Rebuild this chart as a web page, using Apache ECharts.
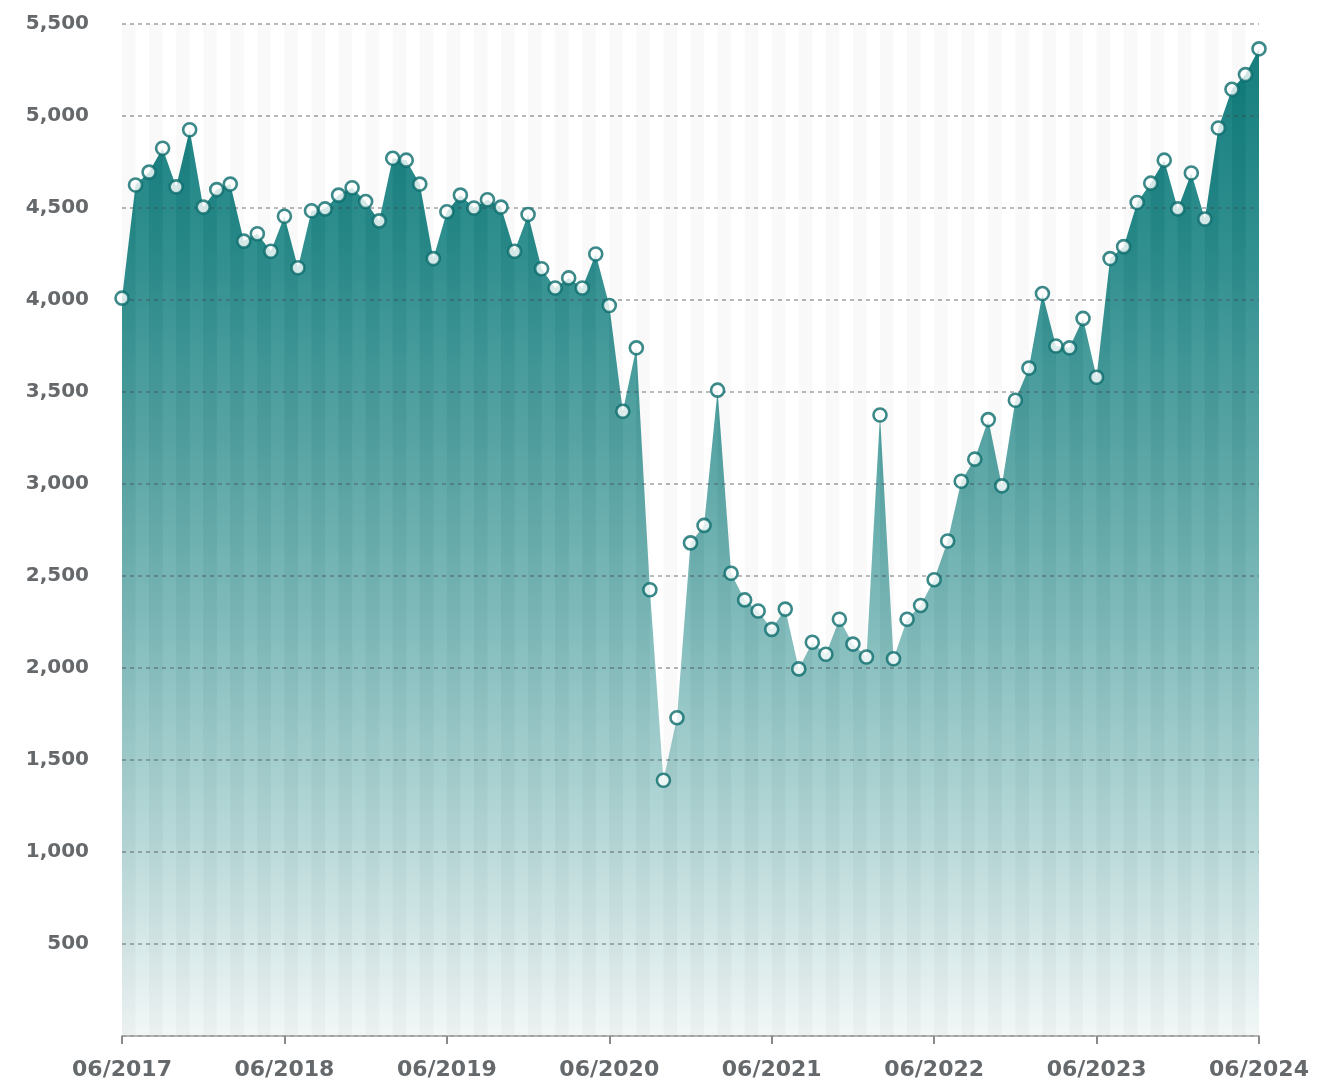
<!DOCTYPE html>
<html>
<head>
<meta charset="utf-8">
<title>Monthly values 06/2017 – 06/2024</title>
<script src="https://cdn.jsdelivr.net/npm/echarts@6/dist/echarts.min.js"></script>
<style>
  html, body { margin: 0; padding: 0; background: #ffffff; }
  #chart { width: 1339px; height: 1082px; }
</style>
</head>
<body>
<div id="chart"></div>
<script>
// Monthly series, June 2017 through June 2024
const startYear = 2017;
const startMonth = 6;
const monthCount = 85;

const values = [
  4010, 4625, 4695, 4825, 4615, 4925, 4505, 4600, 4630, 4320,
  4360, 4265, 4455, 4175, 4485, 4495, 4570, 4610, 4535, 4430,
  4770, 4760, 4630, 4225, 4480, 4570, 4500, 4545, 4505, 4265,
  4465, 4170, 4065, 4120, 4065, 4250, 3970, 3395, 3740, 2425,
  1390, 1730, 2680, 2775, 3510, 2515, 2370, 2310, 2210, 2320,
  1995, 2140, 2075, 2265, 2130, 2060, 3375, 2050, 2265, 2340,
  2480, 2690, 3015, 3135, 3350, 2990, 3455, 3630, 4035, 3750,
  3740, 3900, 3580, 4225, 4290, 4530, 4635, 4760, 4495, 4690,
  4440, 4935, 5145, 5225, 5365
];

const yMin = 0;
const yMax = 5500;
const yStep = 500;

// Month labels "MM/YYYY"
const months = [];
for (let i = 0; i < monthCount; i++) {
  const m = (startMonth - 1 + i) % 12 + 1;
  const y = startYear + Math.floor((startMonth - 1 + i) / 12);
  months.push((m < 10 ? '0' : '') + m + '/' + y);
}

const labelFont = 'DejaVu Sans';
const labelColor = '#65696c';

const chart = echarts.init(document.getElementById('chart'), null, { renderer: 'canvas' });

chart.setOption({
  animation: false,
  backgroundColor: '#ffffff',
  grid: { left: 122, right: 80, top: 24, bottom: 46, containLabel: false },
  xAxis: {
    type: 'category',
    data: months,
    boundaryGap: false,
    z: 3,
    axisLine: { show: true, lineStyle: { color: '#9c9c9c', width: 1.5 } },
    axisTick: {
      show: true, interval: 11, length: 8,
      lineStyle: { color: '#8a8a8a', width: 2 }
    },
    axisLabel: {
      interval: 11, margin: 23,
      fontFamily: labelFont, fontWeight: 'bold', fontSize: 22, color: labelColor
    },
    splitLine: { show: false },
    splitArea: {
      show: true, interval: 0,
      areaStyle: { color: ['rgba(90,100,100,0.04)', 'rgba(255,255,255,0.05)'] }
    }
  },
  yAxis: {
    type: 'value',
    min: yMin,
    max: yMax,
    interval: yStep,
    z: 3,
    axisLine: { show: false },
    axisTick: { show: false },
    axisLabel: {
      margin: 33,
      fontFamily: labelFont, fontWeight: 'bold', fontSize: 20, color: labelColor,
      formatter: v => v === 0 ? '' : v.toLocaleString('en-US')
    },
    splitLine: {
      show: true,
      lineStyle: { color: 'rgba(60,66,70,0.5)', width: 1.5, type: [4, 4] }
    }
  },
  series: [
    {
      type: 'line',
      data: values,
      z: 2,
      showSymbol: false,
      lineStyle: { width: 0, opacity: 0 },
      areaStyle: {
        opacity: 1,
        color: new echarts.graphic.LinearGradient(0, 0, 0, 1, [
          { offset: 0.00, color: '#0b7878' },
          { offset: 0.20, color: '#258989' },
          { offset: 0.40, color: '#50a0a0' },
          { offset: 0.60, color: '#80bbbb' },
          { offset: 0.80, color: '#b5d7d7' },
          { offset: 1.00, color: '#f2f7f7' }
        ])
      },
      silent: true
    },
    {
      type: 'scatter',
      data: values,
      z: 5,
      symbol: 'circle',
      symbolSize: 13,
      itemStyle: { color: '#ffffff', borderColor: '#0b6b6b', borderWidth: 2.6 }
    }
  ]
});
</script>
</body>
</html>
